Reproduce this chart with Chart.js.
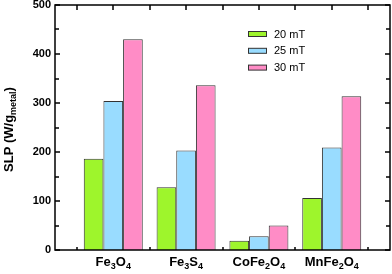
<!DOCTYPE html>
<html>
<head>
<meta charset="utf-8">
<script src="https://cdn.jsdelivr.net/npm/chart.js@4"></script>
<style>
  html, body { margin: 0; padding: 0; background: #fff; }
  #wrap { width: 392px; height: 274px; }
</style>
</head>
<body>
<div id="wrap"><canvas id="chart" width="392" height="274"></canvas></div>
<script>
"use strict";

// data
const categories = ["Fe3O4", "Fe3S4", "CoFe2O4", "MnFe2O4"];
const series = ["20 mT", "25 mT", "30 mT"];
const slp20 = [186, 128, 19, 106];
const slp25 = [304, 203, 28, 209];
const slp30 = [430, 336, 50, 314];
const yTicks = [0, 100, 200, 300, 400, 500];

const colors = ["#9ef52c", "#99dcff", "#ff8cc6"];
const FONT = "'Liberation Sans', Arial, sans-serif";

function points(values) {
  return values.map((v, i) => ({ x: i + 1, y: v }));
}

// draws text where digits (or flagged parts) are subscripts
function richText(ctx, parts, x, y, size, align) {
  const subSize = Math.round(size * 0.66);
  const widthOf = (p) => {
    ctx.font = `bold ${p.sub ? subSize : size}px ${FONT}`;
    return ctx.measureText(p.t).width;
  };
  const total = parts.reduce((s, p) => s + widthOf(p), 0);
  let cx = align === "center" ? x - total / 2 : x;
  for (const p of parts) {
    ctx.font = `bold ${p.sub ? subSize : size}px ${FONT}`;
    ctx.fillText(p.t, cx, p.sub ? y + size * 0.25 : y);
    cx += ctx.measureText(p.t).width;
  }
}

function formulaParts(str) {
  return str.split(/(\d+)/).filter(Boolean).map((t) => ({ t, sub: /^\d+$/.test(t) }));
}

const decor = {
  id: "decor",
  afterDatasetsDraw(chart) {
    const { ctx, chartArea: a, scales } = chart;
    const x = scales.x;
    const y = scales.y;
    ctx.save();
    ctx.fillStyle = "#000";
    ctx.strokeStyle = "#000";

    // frame
    ctx.lineWidth = 1.5;
    ctx.strokeRect(a.left, a.top, a.right - a.left, a.bottom - a.top);

    // y ticks, inward on both sides
    ctx.lineWidth = 1.5;
    ctx.beginPath();
    for (let v = 0; v <= 500; v += 50) {
      const py = Math.round(y.getPixelForValue(v));
      const len = v % 100 === 0 ? 5 : 4;
      ctx.moveTo(a.left, py);
      ctx.lineTo(a.left + len, py);
      ctx.moveTo(a.right, py);
      ctx.lineTo(a.right - len, py);
    }
    // bottom ticks at group borders, top ticks every half group
    for (let v = 0.5; v <= 4.5; v += 0.5) {
      const px = Math.round(x.getPixelForValue(v));
      ctx.moveTo(px, a.top);
      ctx.lineTo(px, a.top + 5);
      if (v % 1 === 0.5) {
        ctx.moveTo(px, a.bottom);
        ctx.lineTo(px, a.bottom - 3);
      }
    }
    ctx.stroke();

    // y tick labels
    ctx.font = `bold 11px ${FONT}`;
    ctx.textAlign = "right";
    ctx.textBaseline = "middle";
    yTicks.forEach((v) => ctx.fillText(String(v), a.left - 4, y.getPixelForValue(v)));

    // category labels
    ctx.textAlign = "left";
    ctx.textBaseline = "alphabetic";
    categories.forEach((c, i) =>
      richText(ctx, formulaParts(c), x.getPixelForValue(i + 1), 266, 13, "center"),
    );

    // y axis title
    ctx.save();
    ctx.translate(13, (a.top + a.bottom) / 2 + 2);
    ctx.rotate(-Math.PI / 2);
    richText(
      ctx,
      [{ t: "SLP (W/g" }, { t: "metal", sub: true }, { t: ")" }],
      0, 0, 13, "center",
    );
    ctx.restore();

    // legend
    ctx.font = `11px ${FONT}`;
    ctx.textBaseline = "middle";
    chart.data.datasets.forEach((ds, i) => {
      const ly = 34 + i * 16.8;
      ctx.fillStyle = ds.backgroundColor;
      ctx.fillRect(248, ly - 2.5, 18, 5);
      ctx.strokeStyle = "#333";
      ctx.lineWidth = 1;
      ctx.strokeRect(248.5, ly - 2.5, 18, 5);
      ctx.fillStyle = "#000";
      ctx.fillText(ds.label, 274, ly + 0.5);
    });
    ctx.restore();
  },
};

new Chart(document.getElementById("chart"), {
  type: "bar",
  data: {
    datasets: [slp20, slp25, slp30].map((vals, i) => ({
      label: series[i],
      data: points(vals),
      backgroundColor: colors[i],
      borderColor: "#333",
      borderWidth: 1,
      barPercentage: 1,
      categoryPercentage: 0.81,
    })),
  },
  options: {
    responsive: false,
    animation: false,
    events: [],
    layout: { padding: { left: 55, right: 2, top: 5, bottom: 24 } },
    scales: {
      x: {
        type: "linear",
        min: 0.2,
        max: 4.8,
        offset: false,
        display: false,
        // one tick per group so the bar ruler uses the full group spacing
        afterBuildTicks: (scale) => {
          scale.ticks = categories.map((c, i) => ({ value: i + 1 }));
        },
      },
      y: { min: 0, max: 500, display: false },
    },
    plugins: { legend: { display: false }, tooltip: { enabled: false } },
  },
  plugins: [decor],
});
</script>
</body>
</html>
